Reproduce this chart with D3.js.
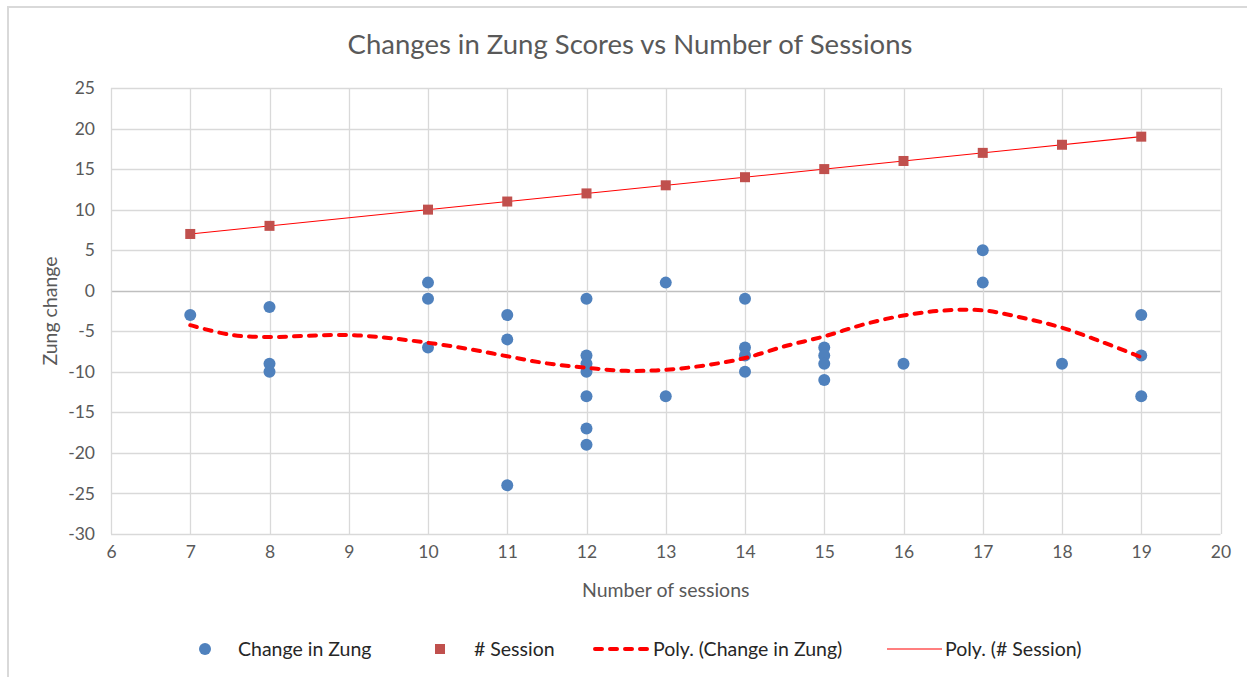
<!DOCTYPE html>
<html>
<head>
<meta charset="utf-8">
<script src="https://cdn.jsdelivr.net/npm/d3@7"></script>
<style>
  body { margin: 0; background: #fff; }
  text { font-family: Lato, "Open Sans", sans-serif; }
</style>
</head>
<body>
<div id="chart"></div>
<script>
// scatter: number of sessions vs change in Zung score
var sessions = [7, 8, 8, 8, 10, 10, 10, 11, 11, 11, 12, 12, 12, 12, 12, 12, 12,
    13, 13, 14, 14, 14, 14, 15, 15, 15, 15, 16, 17, 17, 18, 19, 19, 19];
var zungChange = [-3, -2, -9, -10, 1, -1, -7, -3, -6, -24, -1, -8, -9, -10, -13, -17, -19,
    1, -13, -1, -7, -8, -10, -7, -8, -9, -11, -9, 5, 1, -9, -3, -8, -13];

// "# Session" series
var sessionX = [7, 8, 10, 11, 12, 13, 14, 15, 16, 17, 18, 19];
var sessionY = [7, 8, 10, 11, 12, 13, 14, 15, 16, 17, 18, 19];

// polynomial trend of change in Zung
var trendX = [7, 7.5, 8, 8.5, 9, 9.5, 10, 10.5, 11, 11.5, 12, 12.5, 13, 13.5, 14, 14.5,
    15, 15.5, 16, 16.5, 17, 17.5, 18, 18.5, 19];
var trendY = [-4.25, -5.42, -5.71, -5.54, -5.46, -5.83, -6.42, -7.17, -8.08, -8.96, -9.5, -9.88,
    -9.75, -9.2, -8.3, -6.85, -5.63, -4.15, -3.05, -2.45, -2.42, -3.33, -4.56, -6.3, -8.2];

var xTicks = d3.range(6, 21, 1);
var yTicks = d3.range(-30, 26, 5);

var blue = "#4f81bd";
var red = "#c0504d";

var width = 1247, height = 677;
var margin = { top: 88, right: 27, bottom: 143, left: 111 };

var svg = d3.select("#chart").append("svg")
    .attr("width", width)
    .attr("height", height);

// chart frame
svg.append("rect")
    .attr("x", 8).attr("y", 7)
    .attr("width", 1250).attr("height", 680)
    .attr("fill", "#fff")
    .attr("stroke", "#d9d9d9")
    .attr("stroke-width", 2);

var x = d3.scaleLinear().domain([6, 20]).range([margin.left, width - margin.right + 0.5]);
var y = d3.scaleLinear().domain([-30, 25]).range([height - margin.bottom, margin.top]);

// gridlines
svg.append("g").selectAll("line").data(yTicks).enter().append("line")
    .attr("x1", x(6)).attr("x2", x(20))
    .attr("y1", function(d) { return Math.round(y(d)) + 0.5; })
    .attr("y2", function(d) { return Math.round(y(d)) + 0.5; })
    .attr("stroke", function(d) { return d === 0 ? "#bfbfbf" : "#d9d9d9"; })
    .attr("stroke-width", 1.3);

svg.append("g").selectAll("line").data(xTicks).enter().append("line")
    .attr("y1", y(-30)).attr("y2", y(25))
    .attr("x1", function(d) { return Math.round(x(d)) + 0.5; })
    .attr("x2", function(d) { return Math.round(x(d)) + 0.5; })
    .attr("stroke", "#d9d9d9")
    .attr("stroke-width", 1.3);

// axes (labels only, Excel style) - plain hyphen for negatives
var plain = function(d) { return String(d); };

var yAxis = d3.axisLeft(y).tickValues(yTicks).tickSize(0).tickPadding(16).tickFormat(plain);
var gy = svg.append("g").attr("transform", "translate(" + x(6) + ",0)").call(yAxis);
gy.select(".domain").remove();
gy.selectAll("text").attr("fill", "#595959").style("font-size", "17.5px");

var xAxis = d3.axisBottom(x).tickValues(xTicks).tickSize(0).tickPadding(12).tickFormat(plain);
var gx = svg.append("g").attr("transform", "translate(0," + y(-30) + ")").call(xAxis);
gx.select(".domain").remove();
gx.selectAll("text").attr("fill", "#595959").style("font-size", "17.5px");

// titles
svg.append("text")
    .attr("x", 630).attr("y", 54)
    .attr("text-anchor", "middle")
    .attr("fill", "#595959")
    .style("font-size", "27.5px")
    .text("Changes in Zung Scores vs Number of Sessions");

svg.append("text")
    .attr("transform", "translate(57,311) rotate(-90)")
    .attr("text-anchor", "middle")
    .attr("fill", "#595959")
    .style("font-size", "19.5px")
    .text("Zung change");

svg.append("text")
    .attr("x", (x(6) + x(20)) / 2).attr("y", 597)
    .attr("text-anchor", "middle")
    .attr("fill", "#595959")
    .style("font-size", "19.5px")
    .text("Number of sessions");

// series: # Session trend (linear) and squares
var line = d3.line()
    .x(function(d) { return x(d[0]); })
    .y(function(d) { return y(d[1]); });

var sessionPts = d3.zip(sessionX, sessionY);
svg.append("path")
    .datum([sessionPts[0], sessionPts[sessionPts.length - 1]])
    .attr("d", line)
    .attr("fill", "none")
    .attr("stroke", "#ff0000")
    .attr("stroke-width", 1.1);

svg.append("g").selectAll("rect").data(sessionPts).enter().append("rect")
    .attr("x", function(d) { return x(d[0]) - 5; })
    .attr("y", function(d) { return y(d[1]) - 5; })
    .attr("width", 10).attr("height", 10)
    .attr("fill", red);

// change in Zung dots
svg.append("g").selectAll("circle").data(d3.zip(sessions, zungChange)).enter().append("circle")
    .attr("cx", function(d) { return x(d[0]); })
    .attr("cy", function(d) { return y(d[1]); })
    .attr("r", 6)
    .attr("fill", blue);

// poly trend of change in Zung
svg.append("path")
    .datum(d3.zip(trendX, trendY))
    .attr("d", line.curve(d3.curveCatmullRom))
    .attr("fill", "none")
    .attr("stroke", "#ff0000")
    .attr("stroke-width", 4)
    .attr("stroke-dasharray", "7,8")
    .attr("stroke-linecap", "round");

// legend
var ly = 649;
var legend = svg.append("g");
legend.append("circle").attr("cx", 205).attr("cy", ly).attr("r", 6).attr("fill", blue);
legend.append("rect").attr("x", 435).attr("y", ly - 5).attr("width", 10).attr("height", 10).attr("fill", red);
legend.append("line").attr("x1", 595).attr("x2", 650).attr("y1", ly).attr("y2", ly)
    .attr("stroke", "#ff0000").attr("stroke-width", 4)
    .attr("stroke-dasharray", "7,8").attr("stroke-linecap", "round");
legend.append("line").attr("x1", 887).attr("x2", 942).attr("y1", ly).attr("y2", ly)
    .attr("stroke", "#ff0000").attr("stroke-width", 1.1);

var legendText = [
    { x: 238, label: "Change in Zung" },
    { x: 474, label: "# Session" },
    { x: 653, label: "Poly. (Change in Zung)" },
    { x: 945, label: "Poly. (# Session)" }
];
legend.selectAll("text.lbl").data(legendText).enter().append("text")
    .attr("class", "lbl")
    .attr("x", function(d) { return d.x; })
    .attr("y", ly + 7)
    .attr("fill", "#262626")
    .style("font-size", "19.5px")
    .text(function(d) { return d.label; });
</script>
</body>
</html>
